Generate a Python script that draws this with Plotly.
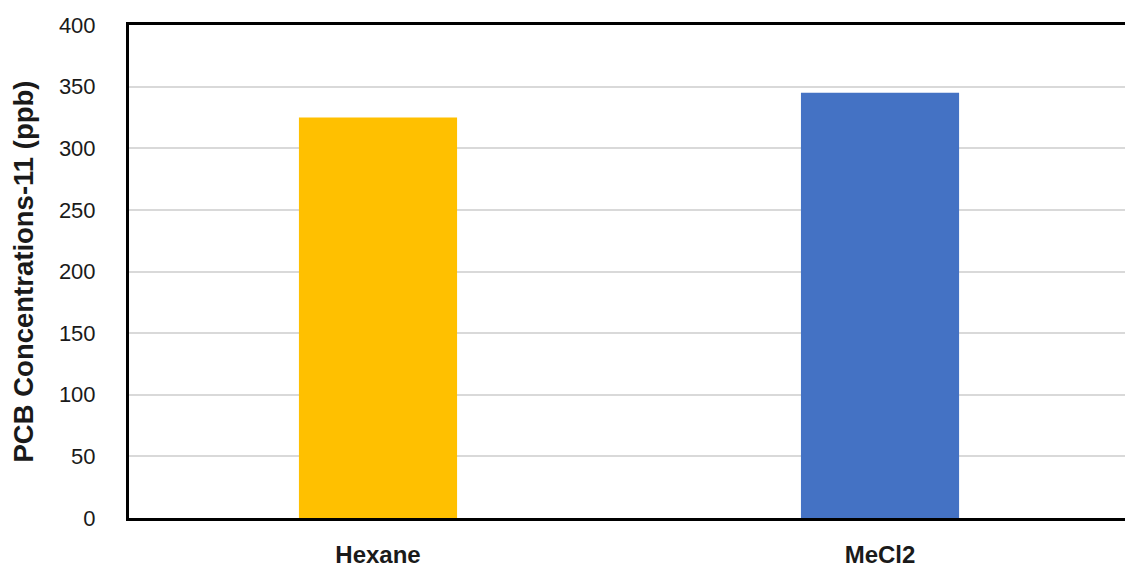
import plotly.graph_objects as go

# Solvent extraction results for PCB-11
solvents = ["Hexane", "MeCl2"]
concentrations = [325, 345]
bar_colors = ["#FFC000", "#4472C4"]
y_ticks = [0, 50, 100, 150, 200, 250, 300, 350, 400]

fig = go.Figure(
    go.Bar(
        x=solvents,
        y=concentrations,
        marker=dict(color=bar_colors, line=dict(width=0)),
        width=0.315,
    )
)

fig.update_layout(
    width=1125,
    height=568,
    margin=dict(l=129, r=0, t=25, b=48),
    paper_bgcolor="white",
    plot_bgcolor="white",
    showlegend=False,
    font=dict(family="Liberation Sans", color="#1a1a1a"),
)

fig.update_xaxes(
    type="category",
    range=[-0.496, 1.488],
    showline=True,
    linecolor="black",
    linewidth=3,
    mirror=True,
    showgrid=False,
    ticks="",
    tickfont=dict(size=24, family="Liberation Sans", weight="bold"),
    ticklabelstandoff=13,
)

fig.update_yaxes(
    range=[0, 400],
    tickvals=y_ticks,
    showline=True,
    linecolor="black",
    linewidth=3,
    showgrid=True,
    gridcolor="#d9d9d9",
    gridwidth=1.5,
    zeroline=False,
    ticks="",
    tickfont=dict(size=22, family="Liberation Sans"),
    ticklabelstandoff=26,
    title=dict(
        text="PCB Concentrations-11 (ppb)",
        font=dict(size=27.5, family="Liberation Sans", weight="bold"),
        standoff=18,
    ),
)

fig.write_html("out.html")
